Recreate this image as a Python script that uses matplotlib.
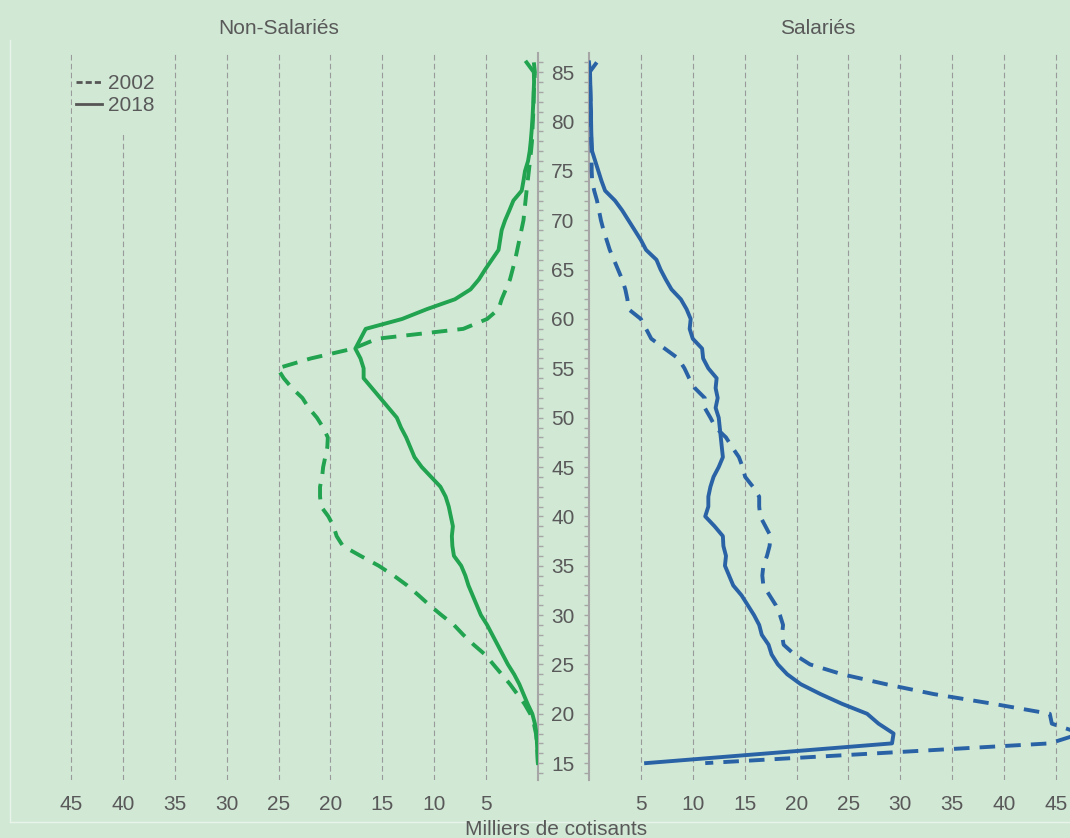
import numpy as np
import matplotlib
matplotlib.use("Agg")
import matplotlib.pyplot as plt
from matplotlib.lines import Line2D
from matplotlib.patches import Rectangle
from matplotlib.ticker import MultipleLocator

# ages (top to bottom) and headcounts in thousands
ages_ns = list(range(86, 14, -1))
ns_2018 = [1.1, 0.4, 0.38, 0.42, 0.45, 0.5, 0.55, 0.62, 0.7, 0.8,
           0.96, 1.25, 1.4, 1.57, 2.37, 2.76, 3.17, 3.5, 3.65, 3.8,
           4.45, 5.1, 5.7, 6.5, 8.0, 10.7, 13.1, 16.6, 17.1, 17.6,
           17.1, 16.8, 16.8, 16.0, 15.2, 14.4, 13.6, 13.2, 12.7, 12.3,
           11.9, 11.2, 10.3, 9.4, 8.9, 8.6, 8.4, 8.2, 8.3, 8.25,
           8.1, 7.4, 7.0, 6.7, 6.3, 5.9, 5.5, 4.9, 4.4, 3.9,
           3.4, 2.9, 2.3, 1.8, 1.4, 1.0, 0.55, 0.3, 0.15, 0.1,
           0.05, 0.0]
ns_2002 = [0.4, 0.3, 0.35, 0.4, 0.42, 0.45, 0.5, 0.54, 0.58, 0.67,
           0.77, 0.88, 0.99, 1.1, 1.2, 1.3, 1.4, 1.6, 1.8, 2.0,
           2.2, 2.45, 2.7, 3.1, 3.5, 3.8, 4.9, 7.2, 15.5, 17.8,
           21.9, 25.1, 24.5, 23.7, 22.7, 22.1, 21.3, 20.7, 20.25, 20.3,
           20.5, 20.7, 20.8, 21.0, 21.0, 20.9, 20.2, 19.7, 19.4, 18.8,
           17.1, 15.35, 13.9, 12.6, 11.5, 10.45, 9.3, 8.1, 7.2, 6.2,
           5.1, 4.3, 3.5, 2.7, 2.0, 1.3, 0.75, 0.4, 0.2, 0.1,
           0.05, 0.02]

ages_sal = list(range(86, 16, -1)) + [15]
sal_2018 = [0.0, 0.1, 0.12, 0.15, 0.17, 0.2, 0.2, 0.22, 0.25, 0.3,
            0.6, 0.9, 1.2, 1.55, 2.5, 3.2, 3.8, 4.4, 5.0, 5.5,
            6.5, 6.9, 7.4, 7.95, 8.85, 9.4, 9.8, 9.7, 10.0, 10.9,
            11.0, 11.5, 12.3, 12.2, 12.4, 12.2, 12.5, 12.6, 12.7, 12.8,
            12.9, 12.5, 12.0, 11.7, 11.5, 11.5, 11.2, 12.1, 12.9, 12.95,
            13.2, 13.1, 13.5, 13.9, 14.7, 15.3, 15.9, 16.4, 16.65, 17.3,
            17.6, 18.2, 19.1, 20.4, 22.3, 24.4, 26.8, 27.9, 29.35, 29.2,
            5.5]
sal_2002 = [0.75, 0.05, 0.1, 0.12, 0.15, 0.17, 0.2, 0.2, 0.22, 0.25,
            0.25, 0.26, 0.3, 0.5, 0.77, 0.96, 1.15, 1.4, 1.7, 2.0,
            2.4, 2.8, 3.2, 3.5, 3.7, 3.8, 5.0, 5.5, 6.0, 7.3,
            8.6, 9.2, 9.65, 10.2, 11.15, 11.15, 11.7, 12.2, 13.2, 13.8,
            14.45, 14.8, 15.05, 15.8, 16.4, 16.4, 16.5, 17.0, 17.5, 17.4,
            17.15, 16.8, 16.7, 16.8, 17.4, 18.0, 18.4, 18.7, 18.6, 18.75,
            19.8, 21.3, 24.4, 28.6, 33.2, 39.0, 44.4, 44.6, 47.4, 44.4,
            11.2]

xticks = [5, 10, 15, 20, 25, 30, 35, 40, 45]

bg = "#d1e8d5"
txt = "#595959"
green = "#21a34f"
blue = "#2a62a6"
spine_col = "#a6a6a6"
dash = (0, (4, 2.6))
fs = 15

plt.rcParams["font.family"] = ["Liberation Sans", "DejaVu Sans"]

W, H = 1070, 838
fig = plt.figure(figsize=(W / 100, H / 100), dpi=100, facecolor=bg)
ax1 = fig.add_axes([10 / W, 1 - 780 / H, 528 / W, 727 / H])
ax2 = fig.add_axes([589 / W, 1 - 780 / H, 481 / W, 727 / H])

for ax in (ax1, ax2):
    ax.set_facecolor(bg)
    ax.set_ylim(13.29, 86.95)
    ax.set_xticks(xticks)
    ax.set_xticklabels([str(t) for t in xticks])
    ax.tick_params(axis="x", length=0, pad=11, labelsize=fs, labelcolor=txt)
    ax.xaxis.grid(True, color="#9a9a9a", linestyle=(0, (5, 3)), linewidth=0.8)
    ax.yaxis.set_major_locator(MultipleLocator(5))
    ax.yaxis.set_minor_locator(MultipleLocator(1))
    for s in ax.spines.values():
        s.set_visible(False)

ax1.set_xlim(50.87, 0)
ax2.set_xlim(0, 46.35)

ax1.spines["right"].set_visible(True)
ax1.spines["right"].set_color(spine_col)
ax1.spines["right"].set_linewidth(1.5)
ax1.yaxis.tick_right()
ax1.tick_params(axis="y", which="both", direction="out", length=3.5, width=1,
                color=spine_col, labelsize=fs, labelcolor=txt, pad=6)

ax2.spines["left"].set_visible(True)
ax2.spines["left"].set_color(spine_col)
ax2.spines["left"].set_linewidth(1.5)
ax2.tick_params(axis="y", which="both", direction="out", length=3.5, width=1,
                color=spine_col, labelleft=False)

ax1.plot(ns_2002, ages_ns, color=green, lw=2.8, linestyle=dash, zorder=3)
ax1.plot(ns_2018, ages_ns, color=green, lw=2.8, zorder=3)
ax2.plot(sal_2002, ages_sal, color=blue, lw=2.8, linestyle=dash, zorder=3)
ax2.plot(sal_2018, ages_sal, color=blue, lw=2.8, zorder=3)

# legend box hides the grid behind it
ax1.add_patch(Rectangle((0.117, 0.887), 0.177, 0.113, transform=ax1.transAxes,
                        facecolor=bg, edgecolor="none", zorder=1.8))
handles = [Line2D([], [], color="#555555", lw=2, linestyle=(0, (2.2, 1.1))),
           Line2D([], [], color="#555555", lw=2)]
leg = ax1.legend(handles, ["2002", "2018"], loc="upper left",
                 bbox_to_anchor=(0.125, 0.971), frameon=False, fontsize=fs,
                 borderpad=0, borderaxespad=0, handlelength=1.25,
                 handletextpad=0.3, labelspacing=0.15)
for t in leg.get_texts():
    t.set_color(txt)

fig.text(279 / W, 1 - 28 / H, "Non-Salariés", ha="center", va="center",
         fontsize=fs, color=txt)
fig.text(818 / W, 1 - 28 / H, "Salariés", ha="center", va="center",
         fontsize=fs, color=txt)
fig.text(556 / W, 1 - 829 / H, "Milliers de cotisants", ha="center",
         va="center", fontsize=fs, color=txt)

# faint frame around the plot area
fig.add_artist(Line2D([10 / W, 10 / W], [1 - 40 / H, 1 - 822 / H],
                      transform=fig.transFigure, color="#e8f3ea", lw=1))
fig.add_artist(Line2D([10 / W, 1.0], [1 - 822 / H, 1 - 822 / H],
                      transform=fig.transFigure, color="#e8f3ea", lw=1))

fig.savefig("out.png", dpi=100, facecolor=bg)
